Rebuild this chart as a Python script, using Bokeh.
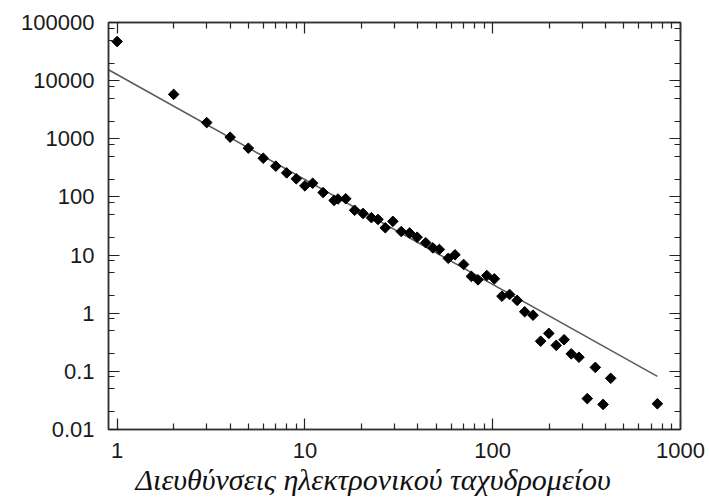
import math
from bokeh.plotting import figure
from bokeh.models import (Range1d, LogAxis, FixedTicker, CustomJSTickFormatter,
                          Title, ColumnDataSource)
from bokeh.embed import file_html
from bokeh.resources import INLINE

# ---- data ----
addresses = [1, 2, 3, 4, 5, 6, 7, 8, 9, 10, 11, 12.5, 14.3, 15, 16.5, 18.4, 20.4,
             22.6, 24.5, 26.8, 29.4, 32.6, 36.1, 39.6, 44, 48, 52, 58, 63, 70, 77,
             83.5, 93, 102, 112, 123, 135, 148, 164, 180, 199, 218, 240, 262, 288,
             319, 352, 387, 425, 753]
frequency = [47000, 5800, 1900, 1065, 689, 463, 338, 259, 205, 155, 172, 119, 87,
             92, 93, 59, 52, 44, 41, 29.5, 38, 25.4, 24, 20.3, 16.3, 13.3, 12.5,
             8.8, 10.1, 6.9, 4.3, 3.75, 4.45, 3.9, 1.96, 2.1, 1.66, 1.06, 0.925,
             0.33, 0.45, 0.28, 0.35, 0.2, 0.175, 0.034, 0.117, 0.027, 0.076, 0.0277]

fit_x = [0.9, 753]
fit_y = [15400, 0.082]

x_major = [1, 10, 100, 1000]
x_labels = ["1", "10", "100", "1000"]
y_major = [0.01, 0.1, 1, 10, 100, 1000, 10000, 100000]
y_labels = ["0.01", "0.1", "1", "10", "100", "1000", "10000", "100000"]
x_minor_mult = [2, 3, 4, 5, 6, 7, 8, 9]
y_minor_mult = [2, 5, 8]

xlabel = "Διευθύνσεις ηλεκτρονικού ταχυδρομείου"

# ---- figure ----
p = figure(width=709, height=504, x_axis_type="log", y_axis_type="log",
           x_range=Range1d(0.9, 1000), y_range=Range1d(0.01, 100000),
           output_backend="svg", toolbar_location=None,
           min_border_left=108, min_border_right=29,
           min_border_top=22, min_border_bottom=75)
p.background_fill_color = "white"
p.border_fill_color = "white"
p.outline_line_color = "#333333"
p.outline_line_width = 1.5
p.xgrid.visible = False
p.ygrid.visible = False

x_minor = [m * d for d in x_major[:-1] for m in x_minor_mult]
y_minor = [m * d for d in y_major[:-1] for m in y_minor_mult]

xt = FixedTicker(ticks=x_major, minor_ticks=x_minor)
yt = FixedTicker(ticks=y_major, minor_ticks=y_minor)

def style(ax):
    ax.major_tick_in = 11
    ax.major_tick_out = 0
    ax.minor_tick_in = 6
    ax.minor_tick_out = 0
    ax.major_tick_line_color = "#222222"
    ax.minor_tick_line_color = "#222222"
    ax.major_tick_line_width = 1.2
    ax.minor_tick_line_width = 1.2
    ax.axis_line_color = "#333333"
    ax.axis_line_width = 1.5
    ax.major_label_text_font = "Liberation Sans"
    ax.major_label_text_font_size = "22px"
    ax.major_label_text_color = "#1a1a1a"
    ax.major_label_standoff = 14

xa = p.xaxis[0]
xa.ticker = xt
xa.major_label_overrides = {v: s for v, s in zip(x_major, x_labels)}
style(xa)
xa.major_label_standoff = 13
ya = p.yaxis[0]
ya.ticker = yt
ya.major_label_overrides = {v: s for v, s in zip(y_major, y_labels)}
style(ya)

blank = CustomJSTickFormatter(code="return ''")
top = LogAxis(ticker=FixedTicker(ticks=x_major, minor_ticks=x_minor), formatter=blank)
style(top)
top.major_label_standoff = 0
top.major_label_text_font_size = "1px"
right = LogAxis(ticker=FixedTicker(ticks=y_major, minor_ticks=y_minor), formatter=blank)
style(right)
right.major_label_standoff = 0
right.major_label_text_font_size = "1px"
p.add_layout(top, "above")
p.add_layout(right, "right")

# fit line
p.line(fit_x, fit_y, line_color="#5a5a5a", line_width=1.5)

# data points (diamonds)
src = ColumnDataSource(dict(x=addresses, y=frequency))
p.scatter("x", "y", source=src, marker="square", size=7.5, angle=math.pi / 4,
          fill_color="black", line_color="black", line_width=1)

# x axis label
t = Title(text=xlabel, align="left", offset=27, standoff=0,
          text_font="Liberation Serif", text_font_style="italic",
          text_font_size="30px", text_color="#111111")
p.add_layout(t, "below")

open("out.html", "w").write(file_html(p, INLINE))
